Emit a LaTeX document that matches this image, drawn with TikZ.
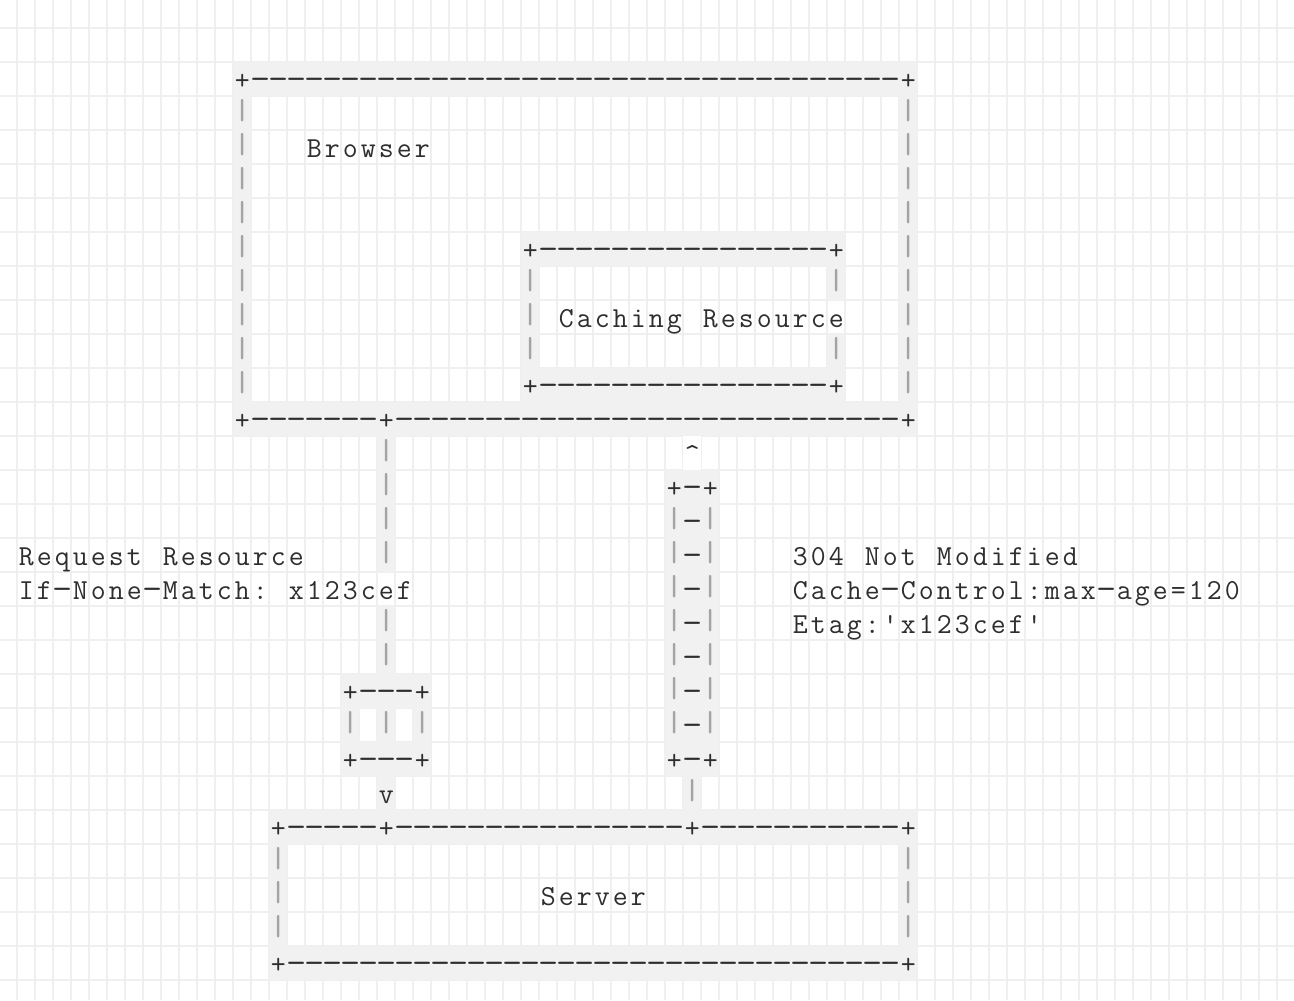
\documentclass[tikz,border=0pt]{standalone}
\usepackage{graphicx}
\usepackage{xcolor}
\definecolor{gridc}{HTML}{EFEFEF}
\definecolor{hlc}{HTML}{F1F1F1}
\definecolor{txt}{HTML}{2E2E2E}
\definecolor{barc}{HTML}{A4A4A4}
\newlength\cellw \setlength\cellw{9pt}
\newcommand\asqc[1]{\makebox[\cellw][c]{\ifx#1~\else\ifx#1|\textcolor{barc}{\fontseries{b}\selectfont\raisebox{2pt}{|}}\else\ifx#1-\scalebox{1.35}[1.15]{-}\else#1\fi\fi\fi}}
\def\asq#1{\asqi#1\relax}
\def\asqi#1{\ifx#1\relax\else\asqc{#1}\expandafter\asqi\fi}
\newcount\asqn
\newcommand\rep[2]{\asqn=0\relax\loop\ifnum\asqn<#1\relax\asqc{#2}\advance\asqn by 1\relax\repeat}
\tikzset{
  asc/.style={anchor=base west, inner sep=0pt, outer sep=0pt, text=txt,
    font=\fontsize{14.5pt}{17pt}\ttfamily\selectfont},
  gridl/.style={draw=gridc, line width=0.75pt},
  hlfill/.style={fill=hlc}
}
\newcommand\asnode[4]{\node[asc] (#1) at ({17.3+18*#2},{89.5+34*#3}) {#4};}
\newcommand\hl[4]{\fill[hlfill] ({17+18*#1},{62+34*#2}) rectangle ({17+18*(#3+1)},{62+34*(#4+1)});}
\begin{document}
\begin{tikzpicture}[x=0.5pt,y=-0.5pt]
\useasboundingbox (0,0) rectangle (1294,1000);
\fill[white] (0,0) rectangle (1294,1000);
% grid
\foreach \k in {-1,...,71} \draw[gridl] ({17+18*\k},0) -- ({17+18*\k},1000);
\foreach \k in {-1,...,28} \draw[gridl] (0,{62+34*\k}) -- (1294,{62+34*\k});
% highlights
\hl{12}{0}{49}{0} \hl{12}{10}{49}{10} \hl{12}{1}{12}{9} \hl{49}{1}{49}{9}
\hl{28}{5}{45}{5} \hl{28}{9}{45}{9} \hl{28}{6}{28}{8} \hl{45}{6}{45}{6} \hl{45}{8}{45}{8}
\hl{20}{11}{20}{14} \hl{20}{16}{20}{17}
\hl{18}{18}{22}{18} \hl{18}{20}{22}{20} \hl{18}{19}{18}{19} \hl{20}{19}{20}{19} \hl{22}{19}{22}{19} \hl{20}{21}{20}{21}
\hl{36}{12}{38}{20} \hl{37}{21}{37}{21}
\hl{14}{22}{49}{22} \hl{14}{26}{49}{26} \hl{14}{23}{14}{25} \hl{49}{23}{49}{25}
\fill[white] ({17+18*37},{62+34*11}) rectangle ({17+18*38},{62+34*12});
% Browser box
\asnode{b0}{12}{0}{\asq{+}\rep{36}{-}\asq{+}}
\foreach \r in {1,...,9} {\asnode{bl\r}{12}{\r}{\asq{|}} \asnode{br\r}{49}{\r}{\asq{|}}}
\asnode{browser}{16}{2}{\asq{Browser}}
\asnode{b10}{12}{10}{\asq{+}\rep{7}{-}\asq{+}\rep{28}{-}\asq{+}}
% Caching box
\asnode{c5}{28}{5}{\asq{+}\rep{16}{-}\asq{+}}
\asnode{c9}{28}{9}{\asq{+}\rep{16}{-}\asq{+}}
\foreach \r in {6,7,8} {\asnode{cl\r}{28}{\r}{\asq{|}}}
\asnode{cr6}{45}{6}{\asq{|}}
\asnode{cr8}{45}{8}{\asq{|}}
\asnode{caching}{30}{7}{\asq{Caching~Resource}}
% left connector
\foreach \r in {11,12,13,14,16,17} {\asnode{lc\r}{20}{\r}{\asq{|}}}
\asnode{sb18}{18}{18}{\asq{+---+}}
\asnode{sb19}{18}{19}{\asq{|~|~|}}
\asnode{sb20}{18}{20}{\asq{+---+}}
\asnode{down}{20}{21}{\asq{v}}
% right connector
\asnode{up}{37}{11}{\asq{\textasciicircum}}
\asnode{rb12}{36}{12}{\asq{+-+}}
\foreach \r in {13,...,19} {\asnode{rb\r}{36}{\r}{\asq{|-|}}}
\asnode{rb20}{36}{20}{\asq{+-+}}
\asnode{rc21}{37}{21}{\asq{|}}
% Server box
\asnode{s22}{14}{22}{\asq{+}\rep{5}{-}\asq{+}\rep{16}{-}\asq{+}\rep{11}{-}\asq{+}}
\foreach \r in {23,24,25} {\asnode{sl\r}{14}{\r}{\asq{|}} \asnode{sr\r}{49}{\r}{\asq{|}}}
\asnode{server}{29}{24}{\asq{Server}}
\asnode{s26}{14}{26}{\asq{+}\rep{34}{-}\asq{+}}
% labels
\asnode{req1}{0}{14}{\asq{Request~Resource}}
\asnode{req2}{0}{15}{\asq{If-None-Match:~x123cef}}
\asnode{resp1}{43}{14}{\asq{304~Not~Modified}}
\asnode{resp2}{43}{15}{\asq{Cache-Control:max-age=120}}
\asnode{resp3}{43}{16}{\asq{Etag:\textquotesingle x123cef\textquotesingle}}
\end{tikzpicture}
\end{document}
